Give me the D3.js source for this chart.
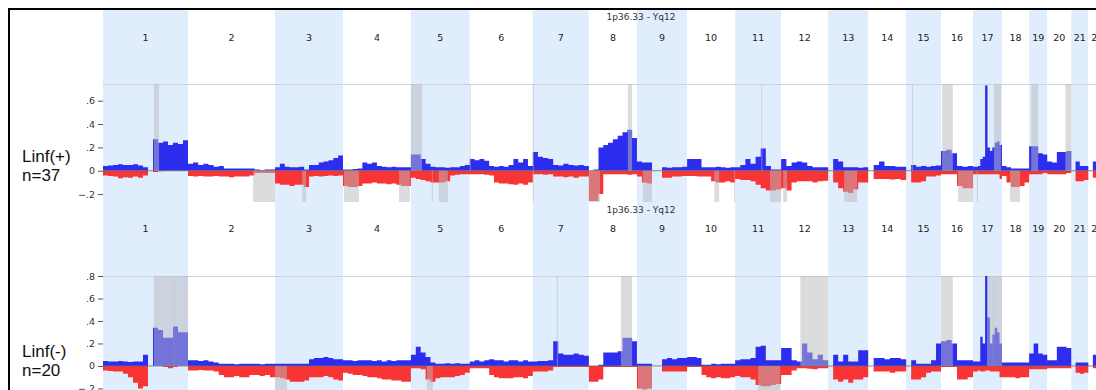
<!DOCTYPE html>
<html>
<head>
<meta charset="utf-8">
<script src="https://cdn.jsdelivr.net/npm/d3@7"></script>
<style>
  html, body { margin: 0; padding: 0; background: #fff; }
  svg { display: block; }
</style>
</head>
<body>
<svg id="chart" width="1096" height="390"></svg>
<script>
// ---- genome layout -------------------------------------------------------
const chromosomes = ["1","2","3","4","5","6","7","8","9","10","11","12","13","14","15","16","17","18","19","20","21","22"];
const chromSizeMb = [244,250,195,195,169,181,161,138,144,138,132,135,115,109,100,92,83,78,52,69,49,52];
const genomeTitle = "1p36.33 - Yq12";

// ---- groups ----------------------------------------------------------------
const groupNames = ["Linf(+)", "Linf(-)"];
const groupSizes = [37, 20];

// ---- gain / loss frequency profiles (equal-width bins along each chromosome, null = no probes)
const gainLinfPos = [
  [.04,.045,.05,.055,.05,.05,.055,.045,.03,null,.27,.24,.25,.22,.24,.23,.26],
  [.06,.07,.05,.06,.05,.035,.04,.02,.02,.02,.02,.02,.02,.01,.005,.01,.01],
  [.03,.06,.035,.03,.03,.035,.01,.05,.05,.07,.08,.09,.11,.13],
  [.01,.01,.015,.02,.07,.06,.07,.04,.035,.03,.035,.03,.03,.03],
  [.14,.14,.1,.06,.035,.03,.03,.025,.03,.03,.04,.05],
  [.1,.09,.1,.085,.04,.035,.04,.035,.05,.1,.07,.1,.04],
  [.16,.12,.11,.1,.05,.045,.06,.05,.045,.05,.04],
  [0,.01,.2,.22,.24,.27,.3,.33,.35,.28],
  [.08,.07,.07,null,null,.03,.025,.03,.03,.035],
  [.1,.1,.1,.03,.03,.03,.035,.03,.025,.03],
  [.03,.05,.1,.06,.12,.19,.04,.01,.01],
  [.1,.04,.07,.08,.07,.04,.03,.03,.03],
  [null,.1,.08,.03,.03,.03,.025,.03],
  [null,.05,.08,.04,.04,.035,.035],
  [null,.05,.035,.04,.035,.04,.045],
  [.17,.18,.15,.04,.035,.04],
  [.035,.035,.04,.1,.12,.73,.2,.17,.2,.24,.25,.22],
  [.04,.03,.02,.02,.02,.02],
  [.21,.21,.15,.14],
  [.08,.07,.16,.16,.17],
  [null,.08,.04,.04],
  [null,.08,.05,.05]
];
const lossLinfPos = [
  [.04,.045,.05,.065,.055,.06,.05,.06,.04,null,.01,.005,0,0,0,0,0],
  [.045,.05,.045,.05,.05,.045,.05,.05,.055,.05,.05,.05,.04,.02,.02,.02,.02],
  [.11,.12,.12,.13,.12,.12,.14,.05,.045,.05,.045,.04,.045,.04],
  [.13,.14,.14,.13,.11,.11,.1,.11,.11,.115,.11,.12,.13,.13],
  [.06,.07,.08,.09,.1,.1,.1,.09,.04,.035,.03,.03],
  [.03,.03,.03,.035,.04,.1,.11,.11,.115,.12,.11,.12,.1],
  [.03,.03,.035,.03,.05,.05,.055,.05,.06,.05,.05],
  [.26,.26,.2,.03,.03,.03,.03,.03,.035,.03],
  [.05,.1,.11,null,null,.06,.06,.05,.05,.045],
  [.045,.045,.05,.05,.05,.09,.1,.1,.09,.1],
  [.07,.08,.08,.09,.12,.15,.17,.17,.16],
  [.15,.17,.1,.09,.09,.09,.1,.09,.085],
  [null,.1,.15,.18,.19,.16,.1,.1],
  [null,.07,.07,.07,.075,.07,.08],
  [null,.1,.1,.09,.05,.05,.04],
  [.03,.03,.03,.13,.15,.15],
  [.03,.03,.03,.03,.03,.03,.03,.03,.03,.03,.03,.07],
  [.045,.1,.14,.14,.13,.1],
  [.03,.03,.03,.02],
  [.03,.03,.03,.03,.02],
  [null,.09,.09,.08],
  [null,.06,.06,.06]
];
const gainLinfNeg = [
  [.045,.04,.04,.045,.04,.035,.04,.04,.1,null,.34,.32,.25,.25,.35,.3,.3],
  [.05,.05,.045,.05,.04,.03,.02,.02,.02,.015,.02,.02,.02,.02,.015,.02,.02],
  [.02,.02,.02,.02,.02,.02,.02,.06,.07,.07,.08,.07,.06,.06],
  [.05,.05,.045,.05,.05,.05,.045,.05,.04,.05,.045,.05,.05,.05],
  [.1,.17,.12,.08,.03,.02,.02,.025,.02,.025,.02,.02],
  [.04,.05,.04,.05,.06,.05,.05,.04,.05,.05,.04,.05,.04],
  [.04,.045,.045,.05,.22,.11,.1,.1,.11,.1,.09],
  [0,0,.01,.12,.12,.12,.13,.25,.25,.22],
  [.02,.02,.02,null,null,.06,.07,.06,.07,.07],
  [.08,.08,.07,.01,.01,.02,.015,.02,.02,.02],
  [.05,.06,.06,.07,.17,.18,.05,.05,.05],
  [.16,.16,.05,.04,.2,.12,.06,.1,.05],
  [null,.1,.04,.1,.04,.04,.14,.14],
  [null,.07,.07,.06,.07,.07,.06],
  [null,.05,.02,.02,.02,.05,.2],
  [.22,.23,.2,.05,.05,.05],
  [.04,.04,.04,.26,.2,.8,.43,.2,.28,.34,.3,.2],
  [.03,.03,.03,.03,.03,.03],
  [.11,.2,.11,.1],
  [.05,.05,.17,.17,.16],
  [null,.03,.03,.03],
  [null,.1,.05,.05]
];
const lossLinfNeg = [
  [.04,.045,.05,.05,.07,.1,.15,.2,.18,null,0,0,.01,.02,.01,0,0],
  [.04,.04,.035,.04,.04,.05,.08,.1,.1,.09,.1,.1,.08,.08,.09,.08,.1],
  [.1,.11,.12,.14,.14,.14,.13,.1,.1,.1,.09,.1,.12,.13],
  [.06,.07,.08,.08,.09,.1,.1,.11,.12,.12,.13,.13,.14,.14],
  [.02,.02,.03,.12,.14,.11,.1,.1,.1,.09,.08,.06],
  [.02,.02,.02,.02,.08,.1,.11,.11,.11,.1,.1,.11,.09],
  [.05,.05,.05,.04,.01,.01,.01,.01,.01,.01,.01],
  [.14,.14,.12,.01,.01,.01,.01,.01,.01,.01],
  [.2,.21,.2,null,null,.05,.05,.05,.05,.05],
  [.01,.01,.01,.08,.1,.11,.1,.11,.11,.1],
  [.09,.1,.1,.12,.17,.18,.18,.17,.16],
  [.08,.08,.04,.02,.02,.025,.03,.02,.02],
  [null,.12,.14,.12,.15,.12,.12,.1],
  [null,.05,.05,.05,.06,.05,.05],
  [null,.12,.12,.1,.06,.05,.05],
  [.01,.01,.01,.12,.12,.1],
  [.05,.05,.04,.05,.05,.04,.04,.05,.05,.05,.05,.1],
  [.1,.1,.1,.11,.1,.1],
  [.03,.03,.03,.03],
  [.02,.02,.02,.02,.02],
  [null,.06,.07,.06],
  [null,.02,.03,.03]
];

// ---- significant regions: [chromosome, start Mb, end Mb, type]
const regionsLinfPos = [
  ["1",146,161,"gain"], ["5",0,32,"gain"], ["6",0,3,"gain"], ["7",0,3,"gain"],
  ["8",112,124,"gain"], ["11",75,78,"gain"], ["15",17,20,"gain"], ["16",3,34,"gain"],
  ["17",60,80,"gain"], ["19",6,26,"gain"], ["20",52,69,"gain"],
  ["2",187,250,"loss"], ["3",78,89,"loss"], ["4",3,46,"loss"], ["4",161,192,"loss"],
  ["5",60,63,"loss"], ["5",80,106,"loss"], ["7",0,3,"loss"], ["8",0,32,"loss"],
  ["9",17,43,"loss"], ["10",78,92,"loss"], ["10",135,138,"loss"], ["11",100,132,"loss"],
  ["12",6,17,"loss"], ["13",46,83,"loss"], ["16",49,92,"loss"], ["17",11,14,"loss"],
  ["18",23,52,"loss"]
];
const regionsLinfNeg = [
  ["1",146,205,"gain"], ["1",204,244,"gain"], ["7",69,72,"gain"], ["8",92,124,"gain"],
  ["12",55,64,"gain"], ["12",63,135,"gain"], ["16",0,34,"gain"],
  ["17",40,58,"gain"], ["17",57,83,"gain"],
  ["3",0,34,"loss"], ["5",46,63,"loss"], ["9",3,43,"loss"], ["11",66,129,"loss"]
];

// ---- axis ticks
const ticksLinfPos = [-0.2, 0, 0.2, 0.4, 0.6];
const ticksLinfNeg = [-0.2, 0, 0.2, 0.4, 0.6, 0.8];

// ---- drawing ---------------------------------------------------------------
const svg = d3.select("#chart");
const W = 1096;
const plotLeft = 103;
const pxPerMb = 0.3483;

const chromStart = d3.cumsum([0, ...chromSizeMb]);
const genomeMb = d3.sum(chromSizeMb);
const x = d3.scaleLinear().domain([0, genomeMb]).range([plotLeft, plotLeft + genomeMb * pxPerMb]);

const blue = "#2d2df0", red = "#f93434", band = "#dfedfc";
const shade = "rgba(185,186,192,0.5)";
const font = "DejaVu Sans, Verdana, sans-serif";

const panels = [
  { name: groupNames[0], n: groupSizes[0], gain: gainLinfPos, loss: lossLinfPos,
    regions: regionsLinfPos, ticks: ticksLinfPos,
    top: 10, bottom: 202, titleY: 20, labelY: 41, plotTop: 84, yDomain: [-0.268, 0.743],
    nameY: 162, nY: 181 },
  { name: groupNames[1], n: groupSizes[1], gain: gainLinfNeg, loss: lossLinfNeg,
    regions: regionsLinfNeg, ticks: ticksLinfNeg,
    top: 202, bottom: 390, titleY: 213, labelY: 232, plotTop: 276, yDomain: [-0.214, 0.8],
    nameY: 357, nY: 376 }
];

panels.forEach((p, pi) => {
  const g = svg.append("g");
  const y = d3.scaleLinear().domain(p.yDomain).range([p.bottom, p.plotTop]);
  const clipId = "clip" + pi;
  svg.append("clipPath").attr("id", clipId)
    .append("rect").attr("x", 0).attr("y", p.top).attr("width", W).attr("height", p.bottom - p.top);
  g.attr("clip-path", `url(#${clipId})`);

  // chromosome bands
  g.selectAll("rect.band").data(chromosomes).join("rect")
    .attr("class", "band")
    .attr("x", (c, i) => x(chromStart[i]))
    .attr("y", p.top)
    .attr("width", (c, i) => x(chromStart[i + 1]) - x(chromStart[i]))
    .attr("height", p.bottom - p.top)
    .attr("fill", (c, i) => i % 2 === 0 ? band : "#ffffff");

  // header separator
  g.append("line")
    .attr("x1", plotLeft).attr("x2", W)
    .attr("y1", p.plotTop + 0.5).attr("y2", p.plotTop + 0.5)
    .attr("stroke", "#cdd2d8").attr("stroke-width", 1);

  // chromosome labels + title
  g.selectAll("text.chr").data(chromosomes).join("text")
    .attr("class", "chr")
    .attr("x", (c, i) => x(chromStart[i] + chromSizeMb[i] / 2))
    .attr("y", p.labelY)
    .attr("text-anchor", "middle")
    .attr("font-family", font).attr("font-size", 9.5).attr("fill", "#222")
    .text(c => c);
  g.append("text")
    .attr("x", 641).attr("y", p.titleY)
    .attr("text-anchor", "middle")
    .attr("font-family", font).attr("font-size", 9).attr("fill", "#333")
    .text(genomeTitle);

  // binned profile -> step points
  const stepPoints = profile => {
    const pts = [];
    profile.forEach((vals, c) => {
      const w = chromSizeMb[c] / vals.length;
      vals.forEach((v, i) => {
        const a = chromStart[c] + i * w;
        pts.push({ pos: a, v }, { pos: a + w, v });
      });
    });
    return pts;
  };

  const area = sign => d3.area()
    .defined(d => d.v != null)
    .x(d => x(d.pos))
    .y0(y(0))
    .y1(d => y(sign * d.v));

  g.append("path").datum(stepPoints(p.gain)).attr("d", area(1)).attr("fill", blue);
  g.append("path").datum(stepPoints(p.loss)).attr("d", area(-1)).attr("fill", red);

  // zero line
  g.append("line")
    .attr("x1", plotLeft).attr("x2", W)
    .attr("y1", y(0)).attr("y2", y(0))
    .attr("stroke", "#6b6b78").attr("stroke-width", 0.8);

  // significant regions
  g.selectAll("rect.region").data(p.regions).join("rect")
    .attr("class", "region")
    .attr("x", d => x(chromStart[chromosomes.indexOf(d[0])] + d[1]))
    .attr("width", d => Math.max(1, x(d[2]) - x(d[1])))
    .attr("y", d => d[3] === "gain" ? p.plotTop : y(0))
    .attr("height", d => d[3] === "gain" ? y(0) - p.plotTop : p.bottom - y(0))
    .attr("fill", shade);

  // y axis
  const fmt = d => d === 0 ? "0" : d3.format(".1f")(d).replace("0.", ".");
  const ax = svg.append("g")
    .attr("transform", `translate(${plotLeft},0)`)
    .call(d3.axisLeft(y).tickValues(p.ticks).tickSize(5).tickPadding(3).tickFormat(fmt));
  ax.select(".domain").remove();
  ax.selectAll("line").attr("stroke", "#555");
  ax.selectAll("text").attr("font-family", font).attr("font-size", 9.5).attr("fill", "#333");

  // group name
  svg.append("text").attr("x", 22).attr("y", p.nameY)
    .attr("font-family", "Liberation Sans, Arial, sans-serif").attr("font-size", 17).attr("fill", "#111")
    .text(p.name);
  svg.append("text").attr("x", 22).attr("y", p.nY)
    .attr("font-family", "Liberation Sans, Arial, sans-serif").attr("font-size", 17).attr("fill", "#111")
    .text("n=" + p.n);
});

// frame
svg.append("line").attr("x1", 8).attr("x2", W).attr("y1", 9).attr("y2", 9)
  .attr("stroke", "#000").attr("stroke-width", 2);
svg.append("line").attr("x1", 9).attr("x2", 9).attr("y1", 8).attr("y2", 390)
  .attr("stroke", "#000").attr("stroke-width", 2);
</script>
</body>
</html>
